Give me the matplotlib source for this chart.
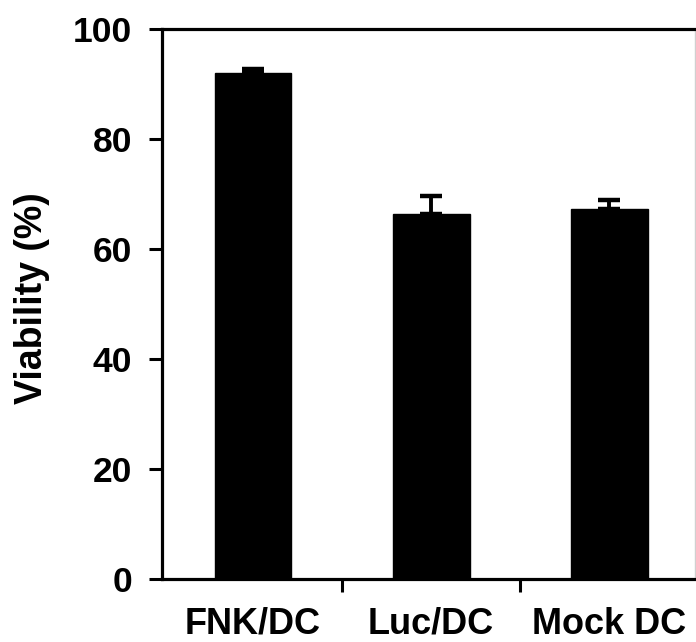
import matplotlib
matplotlib.use("Agg")
import matplotlib.pyplot as plt
from matplotlib.ticker import FixedLocator

# dados
grupos = ["FNK/DC", "Luc/DC", "Mock DC"]
viabilidade = [91.9, 66.3, 67.2]
erro = [0.8, 3.3, 1.6]
yticks = [0, 20, 40, 60, 80, 100]

plt.rcParams["font.family"] = ["Liberation Sans", "DejaVu Sans"]
plt.rcParams["font.weight"] = "bold"

fig = plt.figure(figsize=(6.96, 6.42), dpi=100)
ax = fig.add_axes([162 / 696, 1 - 579 / 642, 533 / 696, 550.5 / 642])

x = list(range(len(grupos)))
ax.bar(x, viabilidade, width=0.43, color="black", edgecolor="black",
       yerr=[[0] * len(erro), erro], capsize=8, zorder=2,
       error_kw={"elinewidth": 2.8, "capthick": 3.2, "ecolor": "black"})

ax.set_xlim(-0.51, 2.48)
ax.set_ylim(0, 100)
ax.set_yticks(yticks)
ax.set_xticks(x)
ax.set_xticklabels(grupos, fontsize=26, fontweight="bold")
ax.xaxis.set_minor_locator(FixedLocator([0.5, 1.5]))
ax.tick_params(axis="x", which="major", length=0, pad=20)
ax.tick_params(axis="x", which="minor", length=9.5, width=2.2, direction="out")
ax.tick_params(axis="y", length=9.5, width=2.2, direction="out", pad=12,
               labelsize=25.5)
for lbl in ax.get_yticklabels():
    lbl.set_fontweight("bold")

ax.set_ylabel("Viability (%)", fontsize=27, fontweight="bold")
ax.yaxis.set_label_coords(-0.21, 0.511)

for lado in ["left", "top", "bottom"]:
    ax.spines[lado].set_linewidth(2.3)
    ax.spines[lado].set_color("black")
ax.spines["right"].set_color("#d0d0d0")
ax.spines["right"].set_linewidth(1)

fig.savefig("out.png", dpi=100)
